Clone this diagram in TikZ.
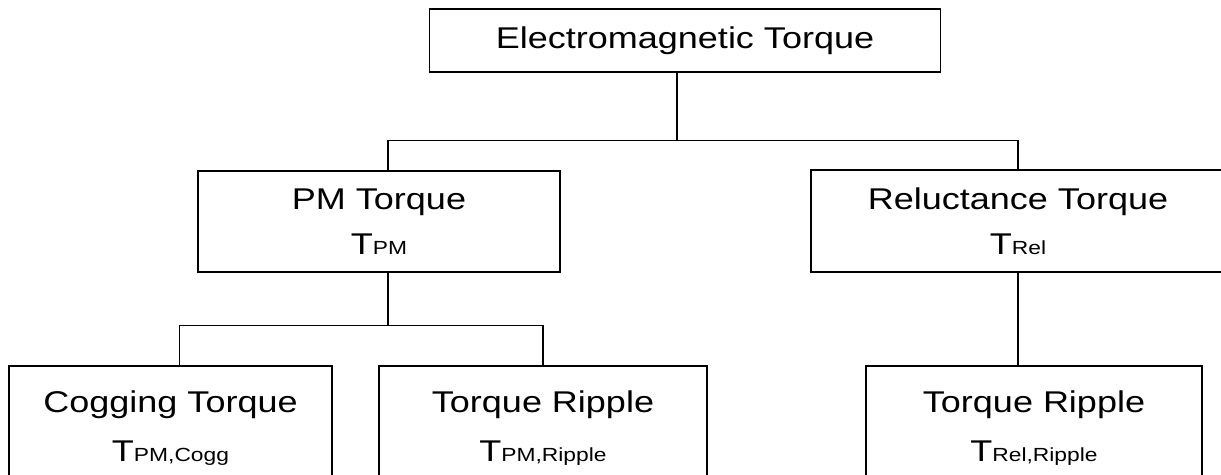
\documentclass[tikz,border=0pt]{standalone}
\usepackage{fontspec}
\setmainfont{Liberation Sans}[FakeStretch=1.2]
\usetikzlibrary{positioning,calc}
\tikzset{
	torquebox/.style={draw=black, line width=1.2pt, align=center, inner sep=0pt,
		font=\fontsize{30}{45}\selectfont},
	lowbox/.style={torquebox, minimum height=124pt,
		font=\fontsize{30}{49}\selectfont},
	link/.style={draw=black, line width=1.2pt},
	%	arrows are not used in this tree
}
\newcommand{\subtxt}[1]{{\fontsize{19}{19}\selectfont #1}}

\begin{document}
\begin{tikzpicture}[x=1pt,y=-1pt]
\useasboundingbox (0,0) rectangle (1221,474);
\clip (0,0) rectangle (1221,474);

\node[torquebox, minimum width=511pt, minimum height=63pt] (em) at (685,40.5) {Electromagnetic Torque};
\node[torquebox, minimum width=362pt, minimum height=101pt] (pm) at (379,221.5) {PM Torque\\T\subtxt{PM}};
\node[torquebox, minimum width=414pt, minimum height=102pt] (rel) at (1018,221) {Reluctance Torque\\T\subtxt{Rel}};
\node[lowbox, minimum width=323pt] (cogg) at (170.5,428) {Cogging Torque\\T\subtxt{PM,Cogg}};
\node[lowbox, minimum width=328pt] (pmrip) at (543,428) {Torque Ripple\\T\subtxt{PM,Ripple}};
\node[lowbox, minimum width=336pt] (relrip) at (1034,428) {Torque Ripple\\T\subtxt{Rel,Ripple}};

\draw[link] ([xshift=-8pt]em.south) -- ++(0,68) coordinate (emjoint);
\draw[link] ([xshift=9pt]pm.north) |- (emjoint) -| (rel.north);
\draw[link] ([xshift=9pt]pm.south) -- ++(0,53) coordinate (pmjoint);
\draw[link] ([xshift=9pt]cogg.north) |- (pmjoint) -| (pmrip.north);
\draw[link] (rel.south) -- (rel.south |- relrip.north);

\end{tikzpicture}
\end{document}
